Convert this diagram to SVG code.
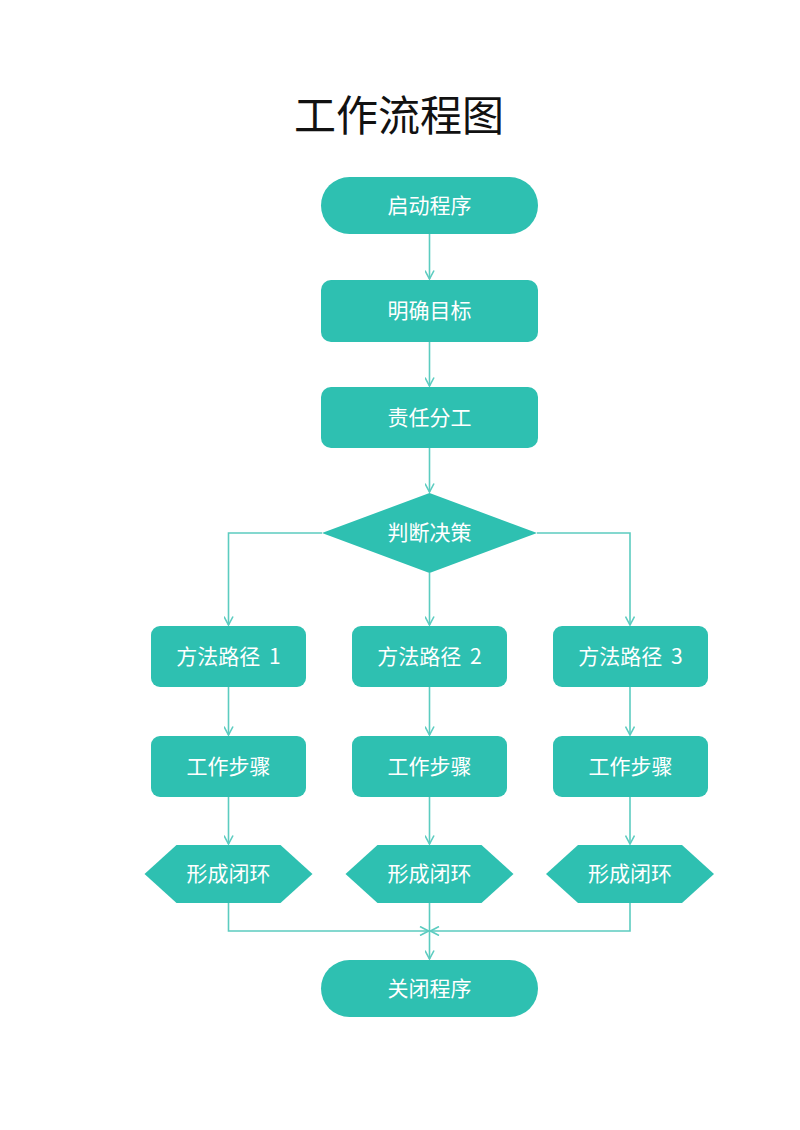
<svg xmlns="http://www.w3.org/2000/svg" width="800" height="1130" viewBox="0 0 800 1130">
<defs>
<style>
.n{fill:#2EC0B1;}
.t{fill:#FFFFFF;font-family:"Noto Sans CJK SC","Liberation Sans",sans-serif;font-size:21px;text-anchor:middle;dominant-baseline:central;}
.c{fill:none;stroke:#5CCCC0;stroke-width:1.6;}
.title{fill:#111111;font-family:"Noto Sans CJK SC","Liberation Sans",sans-serif;font-size:42px;text-anchor:middle;}
</style>
<marker id="arr" viewBox="0 0 10 10" refX="9.5" refY="5" markerWidth="10" markerHeight="10" markerUnits="userSpaceOnUse" orient="auto">
<path d="M1,0.5 L9.5,5 L1,9.5" fill="none" stroke="#5CCCC0" stroke-width="1.6"/>
</marker>
</defs>
<rect width="800" height="1130" fill="#FFFFFF"/>
<text class="title" x="399" y="131">工作流程图</text>
<g id="connectors">
<path class="c" d="M429.5,234 V279" marker-end="url(#arr)"/>
<path class="c" d="M429.5,342 V386" marker-end="url(#arr)"/>
<path class="c" d="M429.5,448 V492" marker-end="url(#arr)"/>
<path class="c" d="M322,533 H228.5 V625" marker-end="url(#arr)"/>
<path class="c" d="M429.5,573 V625" marker-end="url(#arr)"/>
<path class="c" d="M537,533 H630 V625" marker-end="url(#arr)"/>
<path class="c" d="M228.5,687 V735" marker-end="url(#arr)"/>
<path class="c" d="M429.5,687 V735" marker-end="url(#arr)"/>
<path class="c" d="M630,687 V735" marker-end="url(#arr)"/>
<path class="c" d="M228.5,797 V844" marker-end="url(#arr)"/>
<path class="c" d="M429.5,797 V844" marker-end="url(#arr)"/>
<path class="c" d="M630,797 V844" marker-end="url(#arr)"/>
<path class="c" d="M228.5,903 V931 H428.5" marker-end="url(#arr)"/>
<path class="c" d="M630,903 V931 H430.5" marker-end="url(#arr)"/>
<path class="c" d="M429.5,903 V959" marker-end="url(#arr)"/>
</g>
<g id="start">
<rect class="n" x="321" y="177" width="217" height="57" rx="28.5"/>
<text class="t" x="429.5" y="203.5">启动程序</text>
</g>
<g id="goal">
<rect class="n" x="321" y="280" width="217" height="62" rx="10"/>
<text class="t" x="429.5" y="309">明确目标</text>
</g>
<g id="assign">
<rect class="n" x="321" y="387" width="217" height="61" rx="10"/>
<text class="t" x="429.5" y="415.5">责任分工</text>
</g>
<g id="decision">
<polygon class="n" points="429.5,493 537,533 429.5,573 322,533"/>
<text class="t" x="429.5" y="531">判断决策</text>
</g>
<g id="method1">
<rect class="n" x="151" y="626" width="155" height="61" rx="9"/>
<text class="t" x="228.5" y="654.5">方法路径 <tspan dx="4">1</tspan></text>
</g>
<g id="method2">
<rect class="n" x="352" y="626" width="155" height="61" rx="9"/>
<text class="t" x="429.5" y="654.5">方法路径 <tspan dx="4">2</tspan></text>
</g>
<g id="method3">
<rect class="n" x="553" y="626" width="155" height="61" rx="9"/>
<text class="t" x="630.5" y="654.5">方法路径 <tspan dx="4">3</tspan></text>
</g>
<g id="step1">
<rect class="n" x="151" y="736" width="155" height="61" rx="9"/>
<text class="t" x="228.5" y="764.5">工作步骤</text>
</g>
<g id="step2">
<rect class="n" x="352" y="736" width="155" height="61" rx="9"/>
<text class="t" x="429.5" y="764.5">工作步骤</text>
</g>
<g id="step3">
<rect class="n" x="553" y="736" width="155" height="61" rx="9"/>
<text class="t" x="630.5" y="764.5">工作步骤</text>
</g>
<g id="loop1">
<polygon class="n" points="176.5,845 280.5,845 312.5,874 280.5,903 176.5,903 144.5,874"/>
<text class="t" x="228.5" y="872">形成闭环</text>
</g>
<g id="loop2">
<polygon class="n" points="377.5,845 481.5,845 513.5,874 481.5,903 377.5,903 345.5,874"/>
<text class="t" x="429.5" y="872">形成闭环</text>
</g>
<g id="loop3">
<polygon class="n" points="578,845 682,845 714,874 682,903 578,903 546,874"/>
<text class="t" x="630" y="872">形成闭环</text>
</g>
<g id="end">
<rect class="n" x="321" y="960" width="217" height="57" rx="28.5"/>
<text class="t" x="429.5" y="986.5">关闭程序</text>
</g>
</svg>
